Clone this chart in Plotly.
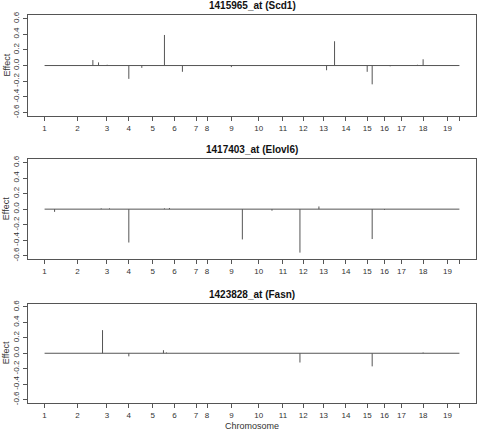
import numpy as np
import plotly.graph_objects as go

# Chromosome lengths (cM-like units) for chromosomes 1..19
chrom_names = [str(i) for i in range(1, 20)]
chrom_len = [99, 88, 66, 72, 65, 65, 33, 73, 82, 73, 61, 61, 67, 64, 52, 51, 65, 73, 36]

titles = ["1415965_at (Scd1)", "1417403_at (Elovl6)", "1423828_at (Fasn)"]

# Spike positions (genome units) and effects for each probe set
scd1_pos = [145, 162, 188, 253, 292, 360, 414, 561, 847, 871, 969, 984, 1137, 1038, 1120]
scd1_eff = [0.07, 0.04, 0.01, -0.17, -0.03, 0.39, -0.08, -0.02, -0.06, 0.31, -0.08, -0.24, 0.08, -0.01, 0.01]

elovl6_pos = [30, 253, 594, 683, 767, 824, 984, 1021, 170, 195, 360, 375]
elovl6_eff = [-0.035, -0.43, -0.39, -0.02, -0.56, 0.035, -0.385, -0.01, 0.01, 0.01, 0.01, 0.015]

fasn_pos = [174, 253, 357, 366, 767, 984, 1137]
fasn_eff = [0.30, -0.04, 0.04, 0.01, -0.12, -0.17, 0.01]

y_ticks = [-0.6, -0.4, -0.2, 0.0, 0.2, 0.4, 0.6]
y_ticktext = ["-0.6", "-0.4", "-0.2", "0.0", "0.2", "0.4", "0.6"]

starts = np.concatenate([[0], np.cumsum(chrom_len)])
genome_end = starts[-1]
pad = 0.04 * genome_end
xrange = [starts[0] - pad, genome_end + pad]

series = [(scd1_pos, scd1_eff), (elovl6_pos, elovl6_eff), (fasn_pos, fasn_eff)]

domains = [[0.7395, 1.0], [0.3706, 0.6286], [0.0, 0.2564]]
line_col = "#555555"
txt_col = "#333333"
font = "Liberation Sans, Arial, Helvetica, sans-serif"

fig = go.Figure()
annotations = []
for i, (pos, eff) in enumerate(series):
    xa = "x" if i == 0 else f"x{i+1}"
    ya = "y" if i == 0 else f"y{i+1}"
    # baseline
    fig.add_trace(go.Scatter(x=[starts[0], genome_end], y=[0, 0], mode="lines",
                             line=dict(color=line_col, width=1), xaxis=xa, yaxis=ya,
                             showlegend=False, hoverinfo="skip"))
    xs, ys = [], []
    for p, e in zip(pos, eff):
        xs += [p, p, None]
        ys += [0, e, None]
    fig.add_trace(go.Scatter(x=xs, y=ys, mode="lines",
                             line=dict(color=line_col, width=1), xaxis=xa, yaxis=ya,
                             showlegend=False))
    xkey = "xaxis" if i == 0 else f"xaxis{i+1}"
    ykey = "yaxis" if i == 0 else f"yaxis{i+1}"
    fig.layout[xkey] = dict(
        domain=[0, 1], range=xrange, anchor=ya, automargin=False,
        tickvals=list(starts), ticktext=chrom_names + [""],
        ticks="outside", ticklen=4, tickcolor=line_col, tickwidth=1,
        showline=True, mirror=True, linecolor=line_col, linewidth=1,
        showgrid=False, zeroline=False,
        tickfont=dict(size=8, color=txt_col, family=font),
    )
    fig.layout[ykey] = dict(
        domain=domains[i], range=[-0.645, 0.645], anchor=xa, automargin=False,
        tickvals=y_ticks, ticktext=y_ticktext, tickangle=-90,
        ticks="outside", ticklen=4, tickcolor=line_col, tickwidth=1,
        ticklabelstandoff=1,
        showline=True, mirror=True, linecolor=line_col, linewidth=1,
        showgrid=False, zeroline=False,
        tickfont=dict(size=8, color=txt_col, family=font),
    )
    annotations.append(dict(text=f"<b>{titles[i]}</b>", xref="paper", yref="paper",
                            x=0.5, y=domains[i][1], yanchor="bottom", xanchor="center",
                            yshift=2, showarrow=False,
                            font=dict(size=10, color="#111111", family=font)))
    annotations.append(dict(text="Effect", xref="paper", yref="paper",
                            x=-0.049, y=(domains[i][0] + domains[i][1]) / 2,
                            xanchor="center", yanchor="middle", textangle=-90,
                            showarrow=False, font=dict(size=9, color=txt_col, family=font)))

annotations.append(dict(text="Chromosome", xref="paper", yref="paper", x=0.5, y=0,
                        yanchor="top", xanchor="center", yshift=-16, showarrow=False,
                        font=dict(size=9, color=txt_col, family=font)))

fig.update_layout(
    width=478, height=431,
    margin=dict(l=28, r=2, t=15, b=28),
    plot_bgcolor="white", paper_bgcolor="white",
    annotations=annotations,
    showlegend=False,
)

fig.write_html("out.html", config={"displayModeBar": False},
               post_script="document.body.style.margin='0';document.body.style.overflow='hidden';")
